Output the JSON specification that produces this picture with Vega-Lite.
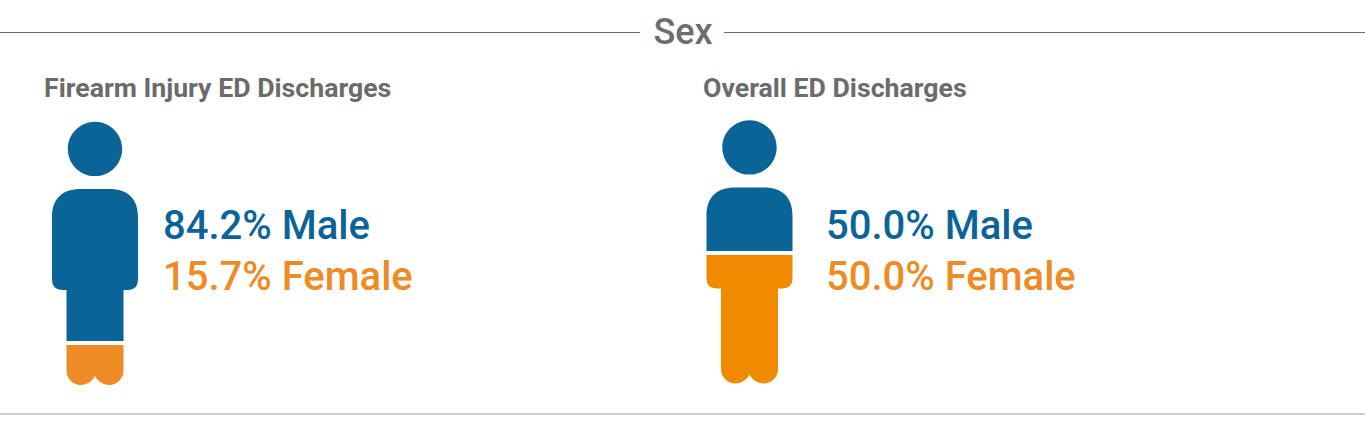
{
  "$schema": "https://vega.github.io/schema/vega-lite/v6.json",
  "width": 1365,
  "height": 445,
  "autosize": {"type": "none"},
  "padding": 0,
  "background": "white",
  "config": {"view": {"stroke": null}},
  "datasets": {
    "shares": [
      {"figure": "Firearm Injury ED Discharges", "sex": "Male", "share": 84.2, "part": "firearm-male", "label": "84.2% Male"},
      {"figure": "Firearm Injury ED Discharges", "sex": "Female", "share": 15.7, "part": "firearm-female", "label": "15.7% Female"},
      {"figure": "Overall ED Discharges", "sex": "Male", "share": 50.0, "part": "overall-male", "label": "50.0% Male"},
      {"figure": "Overall ED Discharges", "sex": "Female", "share": 50.0, "part": "overall-female", "label": "50.0% Female"}
    ],
    "figures": [
      {"figure": "Firearm Injury ED Discharges"},
      {"figure": "Overall ED Discharges"}
    ],
    "section": [{"section": "Sex"}]
  },
  "data": {"name": "shares"},
  "layer": [
    {
      "data": {"name": "section"},
      "mark": {"type": "rule", "color": "#6b6b6b", "strokeWidth": 1},
      "encoding": {
        "x": {"datum": 0, "type": "quantitative", "axis": null, "scale": {"domain": [0, 1365], "range": [0, 1365]}},
        "x2": {"datum": 640},
        "y": {"datum": 32.5, "type": "quantitative", "axis": null, "scale": {"domain": [0, 445], "range": [0, 445]}}
      }
    },
    {
      "data": {"name": "section"},
      "mark": {"type": "rule", "color": "#6b6b6b", "strokeWidth": 1},
      "encoding": {
        "x": {"datum": 724, "type": "quantitative", "axis": null, "scale": {"domain": [0, 1365], "range": [0, 1365]}},
        "x2": {"datum": 1365},
        "y": {"datum": 32.5, "type": "quantitative", "axis": null, "scale": {"domain": [0, 445], "range": [0, 445]}}
      }
    },
    {
      "data": {"name": "section"},
      "mark": {"type": "rule", "color": "#bdbdbd", "strokeWidth": 1.5},
      "encoding": {
        "x": {"datum": 0, "type": "quantitative", "axis": null, "scale": {"domain": [0, 1365], "range": [0, 1365]}},
        "x2": {"datum": 1365},
        "y": {"datum": 414, "type": "quantitative", "axis": null, "scale": {"domain": [0, 445], "range": [0, 445]}}
      }
    },
    {
      "data": {"name": "section"},
      "mark": {"type": "text", "font": "Roboto", "fontSize": 36, "fontWeight": 500, "color": "#6e6e6e", "align": "center", "baseline": "alphabetic"},
      "encoding": {
        "text": {"field": "section", "type": "nominal"},
        "x": {"datum": 683, "type": "quantitative", "axis": null, "scale": {"domain": [0, 1365], "range": [0, 1365]}},
        "y": {"datum": 44, "type": "quantitative", "axis": null, "scale": {"domain": [0, 445], "range": [0, 445]}}
      }
    },
    {
      "data": {"name": "figures"},
      "mark": {"type": "text", "font": "Roboto", "fontSize": 26.7, "fontWeight": 700, "color": "#6b6b6b", "align": "left", "baseline": "alphabetic"},
      "encoding": {
        "text": {"field": "figure", "type": "nominal"},
        "x": {"field": "figure", "type": "nominal", "axis": null, "scale": {"type": "point", "padding": 0, "domain": ["Firearm Injury ED Discharges", "Overall ED Discharges"], "range": [44, 703]}},
        "y": {"datum": 97, "type": "quantitative", "axis": null, "scale": {"domain": [0, 445], "range": [0, 445]}}
      }
    },
    {
      "mark": {"type": "point", "filled": true, "opacity": 1, "strokeWidth": 0, "size": 4},
      "encoding": {
        "x": {"field": "figure", "type": "nominal", "axis": null, "scale": {"type": "point", "padding": 0, "domain": ["Firearm Injury ED Discharges", "Overall ED Discharges"], "range": [95, 749.5]}},
        "y": {"field": "figure", "type": "nominal", "axis": null, "scale": {"type": "point", "padding": 0, "domain": ["Firearm Injury ED Discharges", "Overall ED Discharges"], "range": [253.5, 252]}},
        "shape": {
          "field": "part",
          "type": "nominal",
          "legend": null,
          "scale": {
            "domain": ["firearm-male", "firearm-female", "overall-male", "overall-female"],
            "range": [
              "M0,-131.8 C15,-131.8 27.2,-119.6 27.2,-104.6 C27.2,-89.6 15,-77.4 0,-77.4 C-15,-77.4 -27.2,-89.6 -27.2,-104.6 C-27.2,-119.6 -15,-131.8 0,-131.8 Z M-43,-36 C-43,-55 -33,-64.5 -14,-64.5 L14,-64.5 C33,-64.5 43,-55 43,-36 L43,26 Q43,36.5 33,36.5 L28.5,36.5 L28.5,87.5 L-28.5,87.5 L-28.5,36.5 L-33,36.5 Q-43,36.5 -43,26 Z",
              "M-28.5,91.5 L28.5,91.5 L28.5,117 C28.5,125 22,131.5 14.5,131.5 C8,131.5 3,128 0,122.5 C-3,128 -8,131.5 -14.5,131.5 C-22,131.5 -28.5,125 -28.5,117 Z",
              "M0,-131.8 C15,-131.8 27.2,-119.6 27.2,-104.6 C27.2,-89.6 15,-77.4 0,-77.4 C-15,-77.4 -27.2,-89.6 -27.2,-104.6 C-27.2,-119.6 -15,-131.8 0,-131.8 Z M-43,-36 C-43,-55 -33,-64.5 -14,-64.5 L14,-64.5 C33,-64.5 43,-55 43,-36 L43,-1 L-43,-1 Z",
              "M-43,3 L43,3 L43,26 Q43,36.5 33,36.5 L28.5,36.5 L28.5,117 C28.5,125 22,131.5 14.5,131.5 C8,131.5 3,128 0,122.5 C-3,128 -8,131.5 -14.5,131.5 C-22,131.5 -28.5,125 -28.5,117 L-28.5,36.5 L-33,36.5 Q-43,36.5 -43,26 Z"
            ]
          }
        },
        "color": {
          "field": "part",
          "type": "nominal",
          "legend": null,
          "scale": {
            "domain": ["firearm-male", "firearm-female", "overall-male", "overall-female"],
            "range": ["#0b6498", "#ee8b26", "#0b6498", "#f08a00"]
          }
        }
      }
    },
    {
      "mark": {"type": "text", "font": "Roboto", "fontSize": 40, "fontWeight": 500, "align": "left", "baseline": "alphabetic"},
      "encoding": {
        "text": {"field": "label", "type": "nominal"},
        "x": {"field": "figure", "type": "nominal", "axis": null, "scale": {"type": "point", "padding": 0, "domain": ["Firearm Injury ED Discharges", "Overall ED Discharges"], "range": [163, 826]}},
        "y": {"field": "sex", "type": "nominal", "axis": null, "scale": {"type": "point", "padding": 0, "domain": ["Male", "Female"], "range": [239, 290]}},
        "color": {
          "field": "part",
          "type": "nominal",
          "legend": null,
          "scale": {
            "domain": ["firearm-male", "firearm-female", "overall-male", "overall-female"],
            "range": ["#0b6498", "#ee8b26", "#0b6498", "#ee8b26"]
          }
        }
      }
    }
  ],
  "resolve": {"scale": {"x": "independent", "y": "independent", "color": "independent"}}
}
